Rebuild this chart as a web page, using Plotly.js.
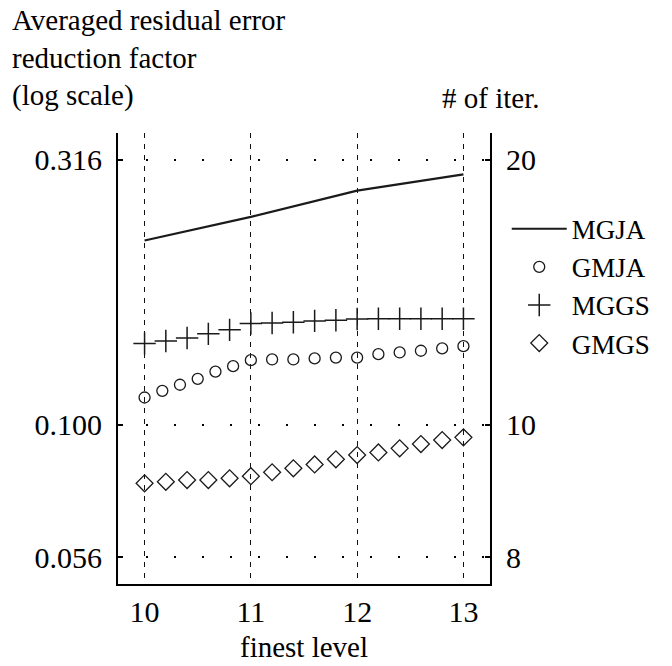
<!DOCTYPE html>
<html>
<head>
<meta charset="utf-8">
<script src="https://cdn.plot.ly/plotly-3.0.1.min.js"></script>
<style>
  html, body { margin: 0; padding: 0; background: #fff; }
  #chart { width: 672px; height: 666px; }
</style>
</head>
<body>
<div id="chart"></div>
<script>
// ---- data ----
const levelsMGJA = [10, 11, 12, 13];
const factorMGJA = [0.2225, 0.2466, 0.2763, 0.2966];

const levelsGMJA = [10, 10.167, 10.333, 10.5, 10.667, 10.833, 11,
                    11.2, 11.4, 11.6, 11.8, 12, 12.2, 12.4, 12.6, 12.8, 13];
const factorGMJA = [0.1126, 0.1159, 0.1190, 0.1221, 0.1260, 0.1290, 0.1324,
                    0.1328, 0.1328, 0.1334, 0.1339, 0.1339, 0.1359, 0.1369, 0.1379, 0.1393, 0.1407];

const levelsGS = [10, 10.2, 10.4, 10.6, 10.8, 11, 11.2, 11.4, 11.6, 11.8,
                  12, 12.2, 12.4, 12.6, 12.8, 13];
const factorMGGS = [0.1423, 0.1439, 0.1458, 0.1484, 0.1510, 0.1552, 0.1556, 0.1561, 0.1570, 0.1574,
                    0.1583, 0.1585, 0.1585, 0.1585, 0.1585, 0.1585];
const factorGMGS = [0.0776, 0.0781, 0.0787, 0.0787, 0.0793, 0.0800, 0.0814, 0.0828, 0.0842, 0.0861,
                    0.0877, 0.0887, 0.0903, 0.0920, 0.0936, 0.0947];

const xTickVals = [10, 11, 12, 13];
const xTickText = ['10', '11', '12', '13'];
const yTickVals = [0.0562341, 0.1, 0.3162278];
const yTickText = ['0.056', '0.100', '0.316'];
const iterTickText = ['8', '10', '20'];

const seriesNames = ['MGJA', 'GMJA', 'MGGS', 'GMGS'];

// ---- styling ----
const FONT = 'Liberation Serif, DejaVu Serif, serif';
const INK = '#1a1a1a';

const traces = [
  {
    x: levelsMGJA, y: factorMGJA, name: seriesNames[0],
    type: 'scatter', mode: 'lines',
    line: { color: INK, width: 2.2 }
  },
  {
    x: levelsGMJA, y: factorGMJA, name: seriesNames[1],
    type: 'scatter', mode: 'markers',
    marker: { symbol: 'circle-open', size: 11, color: INK, line: { width: 1.3, color: INK } }
  },
  {
    x: levelsGS, y: factorMGGS, name: seriesNames[2],
    type: 'scatter', mode: 'markers',
    marker: { symbol: 'cross-thin-open', size: 16, color: INK, line: { width: 1.5, color: INK } }
  },
  {
    x: levelsGS, y: factorGMGS, name: seriesNames[3],
    type: 'scatter', mode: 'markers',
    marker: { symbol: 'diamond-open', size: 13, color: INK, line: { width: 1.3, color: INK } }
  },
  // empty trace so that the right-hand "# of iter." axis is drawn
  {
    x: [], y: [], yaxis: 'y2', type: 'scatter', mode: 'markers',
    showlegend: false, hoverinfo: 'skip'
  }
];

const yCommon = {
  type: 'log',
  range: [-1.3, -0.45],
  autorange: false,
  tickvals: yTickVals,
  showline: true, linecolor: '#000', linewidth: 2,
  ticks: 'inside', ticklen: 5, tickwidth: 2, tickcolor: '#000',
  zeroline: false,
  tickfont: { family: FONT, size: 30, color: '#000' },
  fixedrange: true
};

const layout = {
  width: 672, height: 666,
  margin: { l: 118, r: 182, t: 133, b: 82, pad: 0 },
  paper_bgcolor: '#fff', plot_bgcolor: '#fff',
  font: { family: FONT, size: 29, color: '#000' },
  showlegend: true,
  legend: {
    x: 1.045, xanchor: 'left', y: 0.841, yanchor: 'top',
    font: { family: FONT, size: 27, color: '#000' },
    itemwidth: 55, tracegroupgap: 0,
    bgcolor: 'rgba(0,0,0,0)', borderwidth: 0
  },
  xaxis: {
    range: [9.75, 13.25],
    tickvals: xTickVals, ticktext: xTickText,
    showgrid: true, gridcolor: '#111', gridwidth: 1, griddash: '5px,6px',
    showline: true, linecolor: '#000', linewidth: 2,
    ticks: '', zeroline: false,
    tickfont: { family: FONT, size: 30, color: '#000' },
    title: { text: 'finest level', font: { family: FONT, size: 29, color: '#000' }, standoff: 10 },
    fixedrange: true
  },
  yaxis: Object.assign({}, yCommon, {
    side: 'left',
    ticktext: yTickText,
    showgrid: true, gridcolor: '#000', gridwidth: 2, griddash: '2px,26px',
    ticklabelstandoff: 8
  }),
  yaxis2: Object.assign({}, yCommon, {
    side: 'right', overlaying: 'y',
    ticktext: iterTickText,
    showgrid: false,
    ticklabelstandoff: 8
  }),
  annotations: [
    {
      text: 'Averaged residual error<br>reduction factor<br>(log scale)',
      xref: 'paper', yref: 'paper',
      x: -0.29, xanchor: 'left', y: 1.29, yanchor: 'top',
      align: 'left', showarrow: false,
      font: { family: FONT, size: 29, color: '#000' }
    },
    {
      text: '# of iter.',
      xref: 'paper', yref: 'paper',
      x: 0.865, xanchor: 'left', y: 1.077, yanchor: 'middle',
      align: 'left', showarrow: false,
      font: { family: FONT, size: 29, color: '#000' }
    }
  ]
};

Plotly.newPlot('chart', traces, layout, { staticPlot: true, displayModeBar: false });
</script>
</body>
</html>
